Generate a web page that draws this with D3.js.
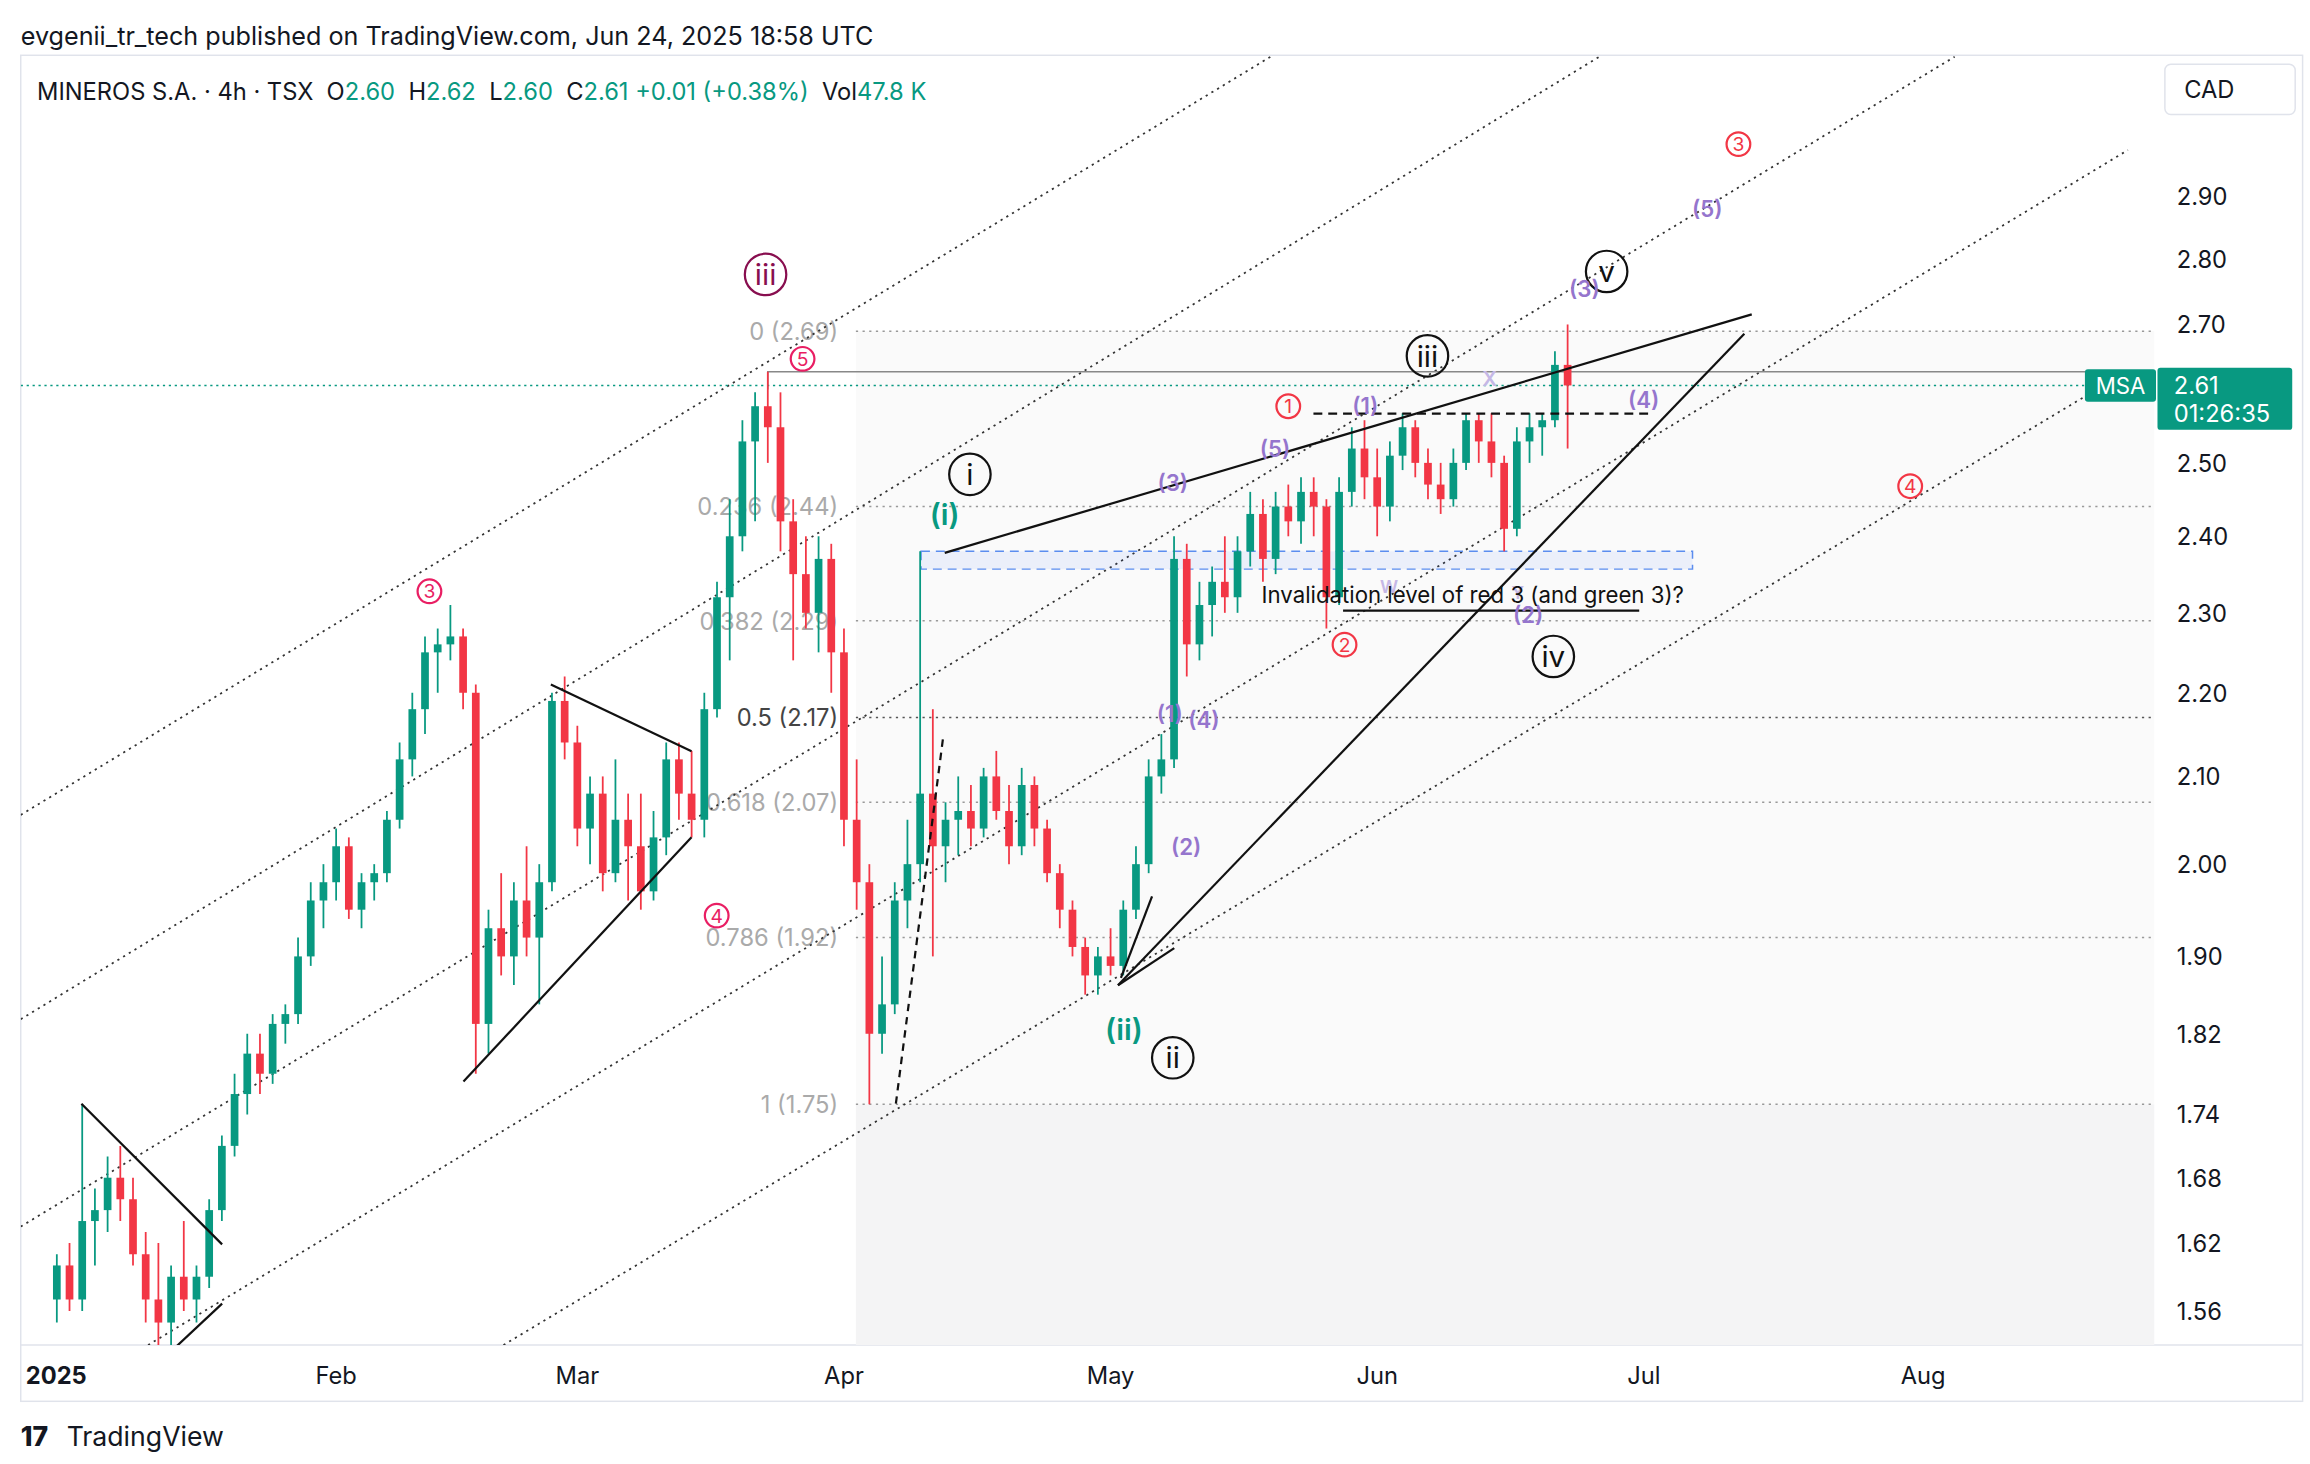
<!DOCTYPE html>
<html>
<head>
<meta charset="utf-8">
<script src="https://cdnjs.cloudflare.com/ajax/libs/d3/7.8.5/d3.min.js"></script>
<style>
  html, body { margin: 0; padding: 0; background: #fff; }
  svg { display: block; font-family: Inter, "Noto Sans", sans-serif; }
</style>
</head>
<body>
<svg id="chart" width="2310" height="1464" viewBox="0 0 1560 988"></svg>
<script>
// Daily-ish OHLC, Jan 2 .. Jun 24 2025 (TSX trading days)
const ohlc = [
  [1.57,1.61,1.55,1.60],[1.60,1.62,1.56,1.57],[1.57,1.75,1.56,1.64],[1.64,1.67,1.60,1.65],[1.65,1.70,1.63,1.68],
  [1.68,1.71,1.64,1.66],[1.66,1.68,1.60,1.61],[1.61,1.63,1.55,1.57],[1.57,1.62,1.53,1.55],[1.55,1.60,1.53,1.59],
  [1.59,1.64,1.56,1.57],[1.57,1.60,1.55,1.59],[1.59,1.66,1.58,1.65],[1.65,1.72,1.64,1.71],[1.71,1.78,1.70,1.76],
  [1.76,1.82,1.74,1.80],[1.80,1.82,1.76,1.78],[1.78,1.84,1.77,1.83],[1.83,1.85,1.81,1.84],[1.84,1.92,1.83,1.90],
  [1.90,1.98,1.89,1.96],[1.96,2.00,1.93,1.98],
  // Feb
  [1.98,2.04,1.96,2.02],[2.02,2.03,1.94,1.95],[1.95,1.99,1.93,1.98],[1.98,2.00,1.96,1.99],[1.99,2.06,1.98,2.05],
  [2.05,2.14,2.04,2.12],[2.12,2.20,2.10,2.18],[2.18,2.27,2.15,2.25],[2.25,2.28,2.20,2.26],[2.26,2.31,2.24,2.27],
  [2.27,2.28,2.18,2.20],[2.20,2.21,1.78,1.83],[1.83,1.95,1.80,1.93],[1.93,1.99,1.88,1.90],
  [1.90,1.98,1.87,1.96],[1.96,2.02,1.90,1.92],[1.92,2.00,1.85,1.98],[1.98,2.20,1.97,2.19],[2.19,2.22,2.12,2.14],
  // Mar
  [2.14,2.16,2.02,2.04],[2.04,2.10,2.00,2.08],[2.08,2.10,1.97,1.99],[1.99,2.12,1.98,2.05],[2.05,2.08,1.96,2.02],
  [2.02,2.08,1.95,1.97],[1.97,2.06,1.96,2.03],[2.03,2.14,2.01,2.12],[2.12,2.14,2.05,2.08],[2.08,2.13,2.03,2.05],
  [2.05,2.20,2.03,2.18],[2.18,2.34,2.17,2.32],[2.32,2.45,2.24,2.40],[2.40,2.56,2.38,2.53],[2.53,2.60,2.42,2.58],
  [2.58,2.63,2.50,2.55],[2.55,2.60,2.38,2.42],[2.42,2.45,2.24,2.35],[2.35,2.40,2.28,2.30],[2.30,2.40,2.25,2.37],
  [2.37,2.39,2.20,2.25],
  // Apr
  [2.25,2.28,2.02,2.05],[2.05,2.12,1.95,1.98],[1.98,2.00,1.75,1.82],[1.82,1.90,1.80,1.85],[1.85,1.98,1.84,1.96],
  [1.96,2.05,1.93,2.00],[2.00,2.38,1.98,2.08],[2.08,2.18,1.90,2.02],[2.02,2.07,1.98,2.05],[2.05,2.10,2.01,2.06],
  [2.06,2.09,2.02,2.04],[2.04,2.11,2.03,2.10],[2.10,2.13,2.05,2.06],[2.06,2.09,2.00,2.02],[2.02,2.11,2.01,2.09],
  [2.09,2.10,2.02,2.04],[2.04,2.05,1.98,1.99],[1.99,2.00,1.93,1.95],[1.95,1.96,1.90,1.91],[1.91,1.92,1.86,1.88],
  // May
  [1.88,1.91,1.86,1.90],[1.90,1.93,1.88,1.89],[1.89,1.96,1.88,1.95],[1.95,2.02,1.94,2.00],[2.00,2.12,1.99,2.10],
  [2.10,2.15,2.08,2.12],[2.12,2.40,2.11,2.37],[2.37,2.39,2.22,2.26],[2.26,2.34,2.24,2.31],[2.31,2.36,2.27,2.34],
  [2.34,2.40,2.30,2.32],[2.32,2.40,2.30,2.38],[2.38,2.46,2.36,2.43],[2.43,2.45,2.34,2.37],[2.37,2.46,2.35,2.44],
  [2.44,2.47,2.40,2.42],[2.42,2.48,2.39,2.46],[2.46,2.48,2.40,2.44],[2.44,2.45,2.28,2.32],[2.32,2.48,2.31,2.46],
  [2.46,2.55,2.44,2.52],
  // Jun
  [2.52,2.56,2.45,2.48],[2.48,2.52,2.40,2.44],[2.44,2.53,2.42,2.51],[2.51,2.57,2.49,2.55],[2.55,2.56,2.48,2.50],
  [2.50,2.52,2.45,2.47],[2.47,2.50,2.43,2.45],[2.45,2.52,2.44,2.50],[2.50,2.57,2.49,2.56],[2.56,2.57,2.50,2.53],
  [2.53,2.57,2.48,2.50],[2.50,2.51,2.38,2.41],[2.41,2.55,2.40,2.53],[2.53,2.57,2.50,2.55],[2.55,2.57,2.51,2.56],
  [2.56,2.66,2.55,2.64],[2.64,2.70,2.52,2.61]
];
const priceTicks = [2.90, 2.80, 2.70, 2.50, 2.40, 2.30, 2.20, 2.10, 2.00, 1.90, 1.82, 1.74, 1.68, 1.62, 1.56];
const monthLabels = ['2025', 'Feb', 'Mar', 'Apr', 'May', 'Jun', 'Jul', 'Aug'];
const fibLevels = [0, 0.236, 0.382, 0.5, 0.618, 0.786, 1];
const fibPrices = [2.69, 2.44, 2.29, 2.17, 2.07, 1.92, 1.75];
const holidays = ['2025-02-17', '2025-04-18', '2025-05-19', '2025-07-01', '2025-08-04'];
const lastPrice = 2.61;

// trading calendar
const days = [];
for (let d = new Date(Date.UTC(2025, 0, 2)); d < Date.UTC(2025, 8, 1); d.setUTCDate(d.getUTCDate() + 1)) {
  const wd = d.getUTCDay();
  const s = d.toISOString().slice(0, 10);
  if (wd === 0 || wd === 6 || holidays.includes(s)) continue;
  days.push(new Date(d));
}
const monthStart = [];
days.forEach((d, i) => { if (i === 0 || d.getUTCMonth() !== days[i - 1].getUTCMonth()) monthStart.push(i); });

const svg = d3.select('#chart');
const L = 14, R = 1455, T = 37, B = 908;
const x = d3.scaleLinear().domain([22, 83]).range([227, 750]);
const y = d3.scaleLog().domain([1.56, 2.9]).range([885, 132]);
const dx = v => x(v), dy = p => y(p);

// frame
svg.append('rect').attr('x', 0).attr('y', 0).attr('width', 1560).attr('height', 988).attr('fill', '#fff');
svg.append('rect').attr('x', L).attr('y', T).attr('width', 1541).attr('height', 908 + 38 - T)
  .attr('fill', 'none').attr('stroke', '#e0e3eb');
svg.append('line').attr('x1', L).attr('x2', 1555).attr('y1', B).attr('y2', B).attr('stroke', '#e0e3eb');

svg.append('clipPath').attr('id', 'plot').append('rect')
  .attr('x', L).attr('y', T).attr('width', R - L).attr('height', B - T);
const g = svg.append('g').attr('clip-path', 'url(#plot)');

// fib zones
const fx0 = 578;
g.append('rect').attr('x', fx0).attr('y', dy(fibPrices[0])).attr('width', R - fx0)
  .attr('height', dy(fibPrices[6]) - dy(fibPrices[0])).attr('fill', '#fafafa');
g.append('rect').attr('x', fx0).attr('y', dy(fibPrices[6])).attr('width', R - fx0)
  .attr('height', B - dy(fibPrices[6])).attr('fill', '#f4f4f5');
fibPrices.forEach((p, i) => {
  g.append('line').attr('x1', fx0).attr('x2', R).attr('y1', dy(p)).attr('y2', dy(p))
    .attr('stroke', i === 3 ? '#555' : '#999').attr('stroke-dasharray', '1.5,3');
  g.append('text').attr('x', 566).attr('y', dy(p) + 6).attr('text-anchor', 'end')
    .attr('font-size', 16).attr('fill', i === 3 ? '#444' : '#aaa')
    .text(`${fibLevels[i]} (${p.toFixed(2)})`);
});

// parallel channel lines (dotted)
const chan = [
  [[14, 550], [858, 38]], [[14, 688], [1080, 38]], [[14, 828], [1320, 38]],
  [[100, 908], [1437, 101]], [[340, 908], [1437, 250]]
];
chan.forEach(([a, b]) => {
  g.append('line').attr('x1', a[0]).attr('y1', a[1]).attr('x2', b[0]).attr('y2', b[1])
    .attr('stroke', '#333').attr('stroke-width', 1.2).attr('stroke-dasharray', '1.5,3');
});

// blue box
g.append('rect').attr('x', 622).attr('y', 372).attr('width', 521).attr('height', 12)
  .attr('fill', 'rgba(41,98,255,0.07)').attr('stroke', '#5b8def').attr('stroke-dasharray', '6,4');

// high line
g.append('path').attr('d', `M${dx(56)},${dy(2.63) + 12}V${dy(2.63)}H${R}`)
  .attr('fill', 'none').attr('stroke', '#888').attr('stroke-width', 1);

// last price line
g.append('line').attr('x1', L).attr('x2', R).attr('y1', dy(lastPrice)).attr('y2', dy(lastPrice))
  .attr('stroke', '#089981').attr('stroke-dasharray', '1.5,2.5');

// candles
const up = '#089981', dn = '#f23645';
ohlc.forEach((c, i) => {
  const col = c[3] >= c[0] ? up : dn;
  const cx = dx(i);
  g.append('line').attr('x1', cx).attr('x2', cx).attr('y1', dy(c[1])).attr('y2', dy(c[2]))
    .attr('stroke', col).attr('stroke-width', 1.2);
  const top = dy(Math.max(c[0], c[3])), bot = dy(Math.min(c[0], c[3]));
  g.append('rect').attr('x', cx - 2.6).attr('width', 5.2).attr('y', top)
    .attr('height', Math.max(1, bot - top)).attr('fill', col);
});

// solid / dashed trend lines
const seg = (x1, y1, x2, y2, dash, w) => g.append('line').attr('x1', x1).attr('y1', y1)
  .attr('x2', x2).attr('y2', y2).attr('stroke', '#111').attr('stroke-width', w || 1.5)
  .attr('stroke-dasharray', dash || null);
seg(55, 745, 150, 840); seg(118, 910, 150, 880);
seg(313, 730, 467, 565); seg(372, 462, 467, 507);
seg(638, 373, 1183, 212); seg(755, 665, 1178, 225);
seg(755, 665, 793, 640); seg(757, 660, 778, 605);
seg(605, 745, 637, 497, '5,4');
seg(887, 279, 1117, 279, '6,4');
seg(907, 412, 1107, 412);

// wave labels
function circ(cx, cy, t, col, r, fs) {
  g.append('circle').attr('cx', cx).attr('cy', cy).attr('r', r).attr('fill', 'none')
    .attr('stroke', col).attr('stroke-width', 1.5);
  g.append('text').attr('x', cx).attr('y', cy + fs * 0.36).attr('text-anchor', 'middle')
    .attr('font-size', fs).attr('fill', col).text(t);
}
function lab(cx, cy, t, col, fs) {
  g.append('text').attr('x', cx).attr('y', cy + fs * 0.36).attr('text-anchor', 'middle')
    .attr('font-size', fs).attr('font-weight', 600).attr('fill', col).text(t);
}
const pink = '#e91e63', red = '#f23645', purp = '#9575cd', teal = '#089981';
[[290, 399, '3'], [542, 242, '5'], [484, 618, '4']].forEach(d => circ(d[0], d[1], d[2], pink, 8, 13));
[[870, 274, '1'], [908, 435, '2'], [1174, 97, '3'], [1290, 328, '4']].forEach(d => circ(d[0], d[1], d[2], red, 8, 13));
circ(517, 185, 'iii', '#880e4f', 14, 20);
[[655, 320, 'i'], [792, 714, 'ii'], [964, 240, 'iii'], [1049, 443, 'iv'], [1085, 183, 'v']]
  .forEach(d => circ(d[0], d[1], d[2], '#111', 14, 20));
lab(638, 347, '(i)', teal, 20); lab(759, 695, '(ii)', teal, 20);
[[790, 482, '(1)'], [813, 486, '(4)'], [801, 572, '(2)'], [792, 326, '(3)'], [861, 303, '(5)'],
 [922, 274, '(1)'], [1032, 415, '(2)'], [1070, 195, '(3)'], [1110, 270, '(4)'], [1153, 141, '(5)']]
  .forEach(d => lab(d[0], d[1], d[2], purp, 15));
lab(1006, 255, 'X', '#c5b8e6', 14); lab(938, 396, 'W', '#c5b8e6', 12); lab(1025, 400, 'Y', '#c5b8e6', 12);
g.append('text').attr('x', 852).attr('y', 407).attr('font-size', 15).attr('fill', '#111')
  .text('Invalidation level of red 3 (and green 3)?');

// right axis
priceTicks.forEach(p => {
  svg.append('text').attr('x', 1470).attr('y', dy(p) + 6).attr('font-size', 16).attr('fill', '#131722')
    .text(p.toFixed(2));
});
// bottom axis
monthStart.forEach((i, k) => {
  svg.append('text').attr('x', k === 0 ? 38 : dx(i)).attr('y', 934).attr('text-anchor', 'middle')
    .attr('font-size', 16).attr('font-weight', k === 0 ? 700 : 400).attr('fill', '#131722')
    .text(monthLabels[k]);
});

// price tags
svg.append('rect').attr('x', 1408).attr('y', dy(lastPrice) - 11).attr('width', 48).attr('height', 22)
  .attr('rx', 2).attr('fill', teal);
svg.append('text').attr('x', 1432).attr('y', dy(lastPrice) + 6).attr('text-anchor', 'middle')
  .attr('font-size', 15).attr('fill', '#fff').text('MSA');
svg.append('rect').attr('x', 1457).attr('y', dy(lastPrice) - 12).attr('width', 91).attr('height', 42)
  .attr('rx', 2).attr('fill', teal);
svg.append('text').attr('x', 1468).attr('y', dy(lastPrice) + 6).attr('font-size', 16).attr('fill', '#fff').text('2.61');
svg.append('text').attr('x', 1468).attr('y', dy(lastPrice) + 25).attr('font-size', 16).attr('fill', '#fff').text('01:26:35');

// CAD
svg.append('rect').attr('x', 1462).attr('y', 43).attr('width', 88).attr('height', 34).attr('rx', 4)
  .attr('fill', '#fff').attr('stroke', '#e0e3eb');
svg.append('text').attr('x', 1475).attr('y', 66).attr('font-size', 16).attr('fill', '#131722').text('CAD');

// header
svg.append('text').attr('x', 14).attr('y', 30).attr('font-size', 17).attr('fill', '#131722')
  .text('evgenii_tr_tech published on TradingView.com, Jun 24, 2025 18:58 UTC');
const leg = svg.append('text').attr('x', 25).attr('y', 67).attr('font-size', 16).attr('fill', '#131722')
  .attr('xml:space', 'preserve');
[['MINEROS S.A. · 4h · TSX  ', '#131722'], ['O', '#131722'], ['2.60  ', teal], ['H', '#131722'], ['2.62  ', teal],
 ['L', '#131722'], ['2.60  ', teal], ['C', '#131722'], ['2.61 +0.01 (+0.38%)  ', teal], ['Vol', '#131722'], ['47.8 K', teal]]
  .forEach(([t, c]) => leg.append('tspan').attr('fill', c).text(t));

// footer logo
svg.append('text').attr('x', 14).attr('y', 976).attr('font-size', 18).attr('font-weight', 800)
  .attr('fill', '#131722').text('17');
svg.append('text').attr('x', 45).attr('y', 976).attr('font-size', 18).attr('fill', '#131722').text('TradingView');
</script>
</body>
</html>
